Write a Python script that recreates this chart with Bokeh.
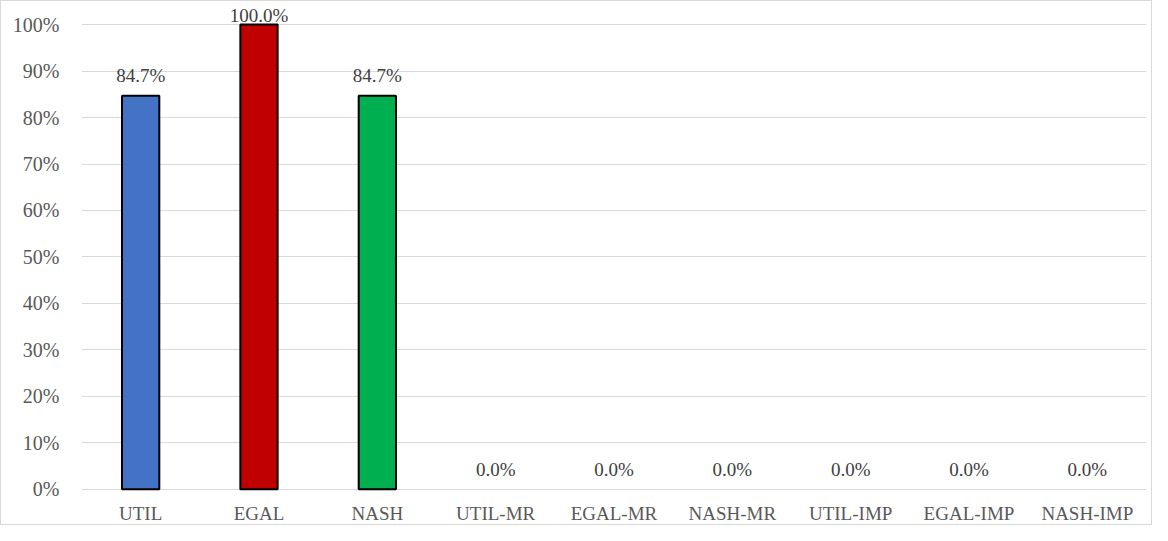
from bokeh.plotting import figure
from bokeh.models import ColumnDataSource, LabelSet, NumeralTickFormatter, FixedTicker, Range1d
from bokeh.core.properties import value
from bokeh.embed import file_html
from bokeh.resources import INLINE

categories = ["UTIL", "EGAL", "NASH", "UTIL-MR", "EGAL-MR", "NASH-MR", "UTIL-IMP", "EGAL-IMP", "NASH-IMP"]
values = [0.847, 1.0, 0.847, 0.0, 0.0, 0.0, 0.0, 0.0, 0.0]
colors = ["#4472C4", "#C00000", "#00B050", "#4472C4", "#C00000", "#00B050", "#4472C4", "#C00000", "#00B050"]
labels = ["84.7%", "100.0%", "84.7%", "0.0%", "0.0%", "0.0%", "0.0%", "0.0%", "0.0%"]
y_ticks = [0.0, 0.1, 0.2, 0.3, 0.4, 0.5, 0.6, 0.7, 0.8, 0.9, 1.0]

FONT = "Liberation Serif"
PX = 463.0  # pixels per 100%

src = ColumnDataSource(dict(cat=categories, val=values, color=colors, label=labels,
                            lc=["black" if v > 0 else None for v in values],
                            off=[9 if v >= 1 else 20 for v in values]))

p = figure(x_range=categories, y_range=Range1d(-37 / PX, 1 + 23 / PX), width=1152, height=525,
           output_backend="svg", toolbar_location=None,
           min_border_left=80, min_border_right=7, min_border_top=0, min_border_bottom=0)
p.styles = {"border": "1px solid #d9d9d9", "box-sizing": "border-box"}

p.vbar(x="cat", top="val", width=0.315, source=src, fill_color="color",
       line_color="lc", line_width=2)

# data labels
p.add_layout(LabelSet(x="cat", y="val", text="label", source=src, y_offset="off",
                      text_align="center", text_baseline="middle",
                      text_font=value(FONT), text_font_size="19px", text_color="#404040"))
# category labels
p.add_layout(LabelSet(x="cat", y=0, text="cat", source=src, y_offset=-24,
                      text_align="center", text_baseline="middle",
                      text_font=value(FONT), text_font_size="19px", text_color="#595959"))

p.outline_line_color = None
p.xaxis.visible = False
p.xgrid.grid_line_color = None
p.ygrid.grid_line_color = "#d9d9d9"
p.ygrid.grid_line_width = 1
p.yaxis.ticker = FixedTicker(ticks=y_ticks)
p.yaxis.formatter = NumeralTickFormatter(format="0%")
ax = p.yaxis[0]
ax.axis_line_color = None
ax.major_tick_line_color = None
ax.minor_tick_line_color = None
ax.major_label_text_font = FONT
ax.major_label_text_font_size = "20px"
ax.major_label_text_color = "#595959"
ax.major_label_standoff = 16

open("out.html", "w").write(file_html(p, INLINE))
